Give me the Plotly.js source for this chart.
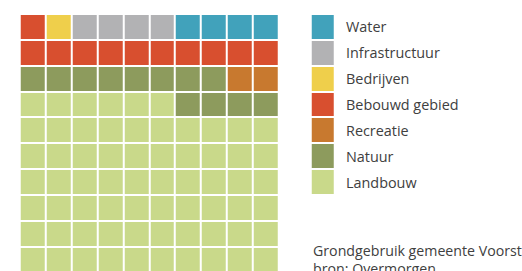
<!DOCTYPE html>
<html>
<head>
<meta charset="utf-8">
<script src="https://cdn.plot.ly/plotly-3.0.1.min.js"></script>
<style>html,body{margin:0;padding:0;background:#fff;}#chart{width:522px;height:271px;}</style>
</head>
<body>
<div id="chart"></div>
<script>
// Data
const categories = ["Water", "Infrastructuur", "Bedrijven", "Bebouwd gebied", "Recreatie", "Natuur", "Landbouw"];
const counts = [4, 4, 1, 11, 2, 12, 66];
const colors = ["#41a2bb", "#b2b2b4", "#efcf4b", "#d84f2f", "#c8792f", "#8d9b5d", "#c9d98a"];
const caption = ["Grondgebruik gemeente Voorst", "bron: Overmorgen"];

// Build waffle grid (10x10), filled from bottom-left, row by row, in reverse legend order
const N = 10;
const seq = [];
for (let k = categories.length - 1; k >= 0; k--) {
  for (let i = 0; i < counts[k]; i++) seq.push(k);
}
const z = [];
for (let r = 0; r < N; r++) {
  const row = [];
  for (let c = 0; c < N; c++) row.push(seq[r * N + c]);
  z.push(row);
}
const nC = categories.length;
const cs = [];
for (let k = 0; k < nC; k++) {
  const lo = k === 0 ? 0 : (k - 0.5) / (nC - 1);
  const hi = k === nC - 1 ? 1 : (k + 0.5) / (nC - 1);
  cs.push([lo, colors[k]]);
  cs.push([hi, colors[k]]);
}

const waffle = {
  type: 'heatmap', z: z, x: [...Array(N).keys()], y: [...Array(N).keys()],
  colorscale: cs, zmin: 0, zmax: nC - 1, showscale: false,
  xgap: 2, ygap: 2, hoverinfo: 'skip', xaxis: 'x', yaxis: 'y'
};

// Legend swatches on shared y axis, top rows
const legY = categories.map((_, k) => N - 1 - k).reverse();
const legZ = categories.map((_, k) => [k]).reverse();
const legendTrace = {
  type: 'heatmap', z: legZ, x: [0], y: legY,
  colorscale: cs, zmin: 0, zmax: nC - 1, showscale: false,
  xgap: 2, ygap: 2, hoverinfo: 'skip', xaxis: 'x2', yaxis: 'y'
};

const pitchX = 25.9, leftPx = 19.7;
const xr = [-0.5 - leftPx / pitchX, -0.5 + (522 - leftPx) / pitchX];
const pitchY = 25.85, topPx = 14;
const yr = [N - 0.5 - (271 - topPx) / pitchY, N - 0.5 + topPx / pitchY];
const lw = 24.3, lc = 322.85;
const x2r = [-lc / lw, (522 - lc) / lw];

const font = "'Open Sans', sans-serif";
const annotations = categories.map((name, k) => ({
  text: name, xref: 'x2', yref: 'y', x: 0.86, y: N - 1 - k,
  xanchor: 'left', yanchor: 'middle', showarrow: false,
  font: {family: font, size: 14.4, color: '#404040'}
}));
annotations.push({
  text: caption.join('<br>'), xref: 'x2', yref: 'paper', x: -0.5, y: 1 - 239 / 271,
  xanchor: 'left', yanchor: 'top', align: 'left', showarrow: false,
  font: {family: font, size: 14.2, color: '#404040'}
});

const ax = {showgrid: false, zeroline: false, showticklabels: false, ticks: '', showline: false, fixedrange: true};
const layout = {
  width: 522, height: 271, margin: {l: 0, r: 0, t: 0, b: 0},
  paper_bgcolor: '#fff', plot_bgcolor: 'rgba(0,0,0,0)', showlegend: false,
  xaxis: Object.assign({}, ax, {range: xr, domain: [0, 1]}),
  xaxis2: Object.assign({}, ax, {range: x2r, domain: [0, 1], overlaying: 'x'}),
  yaxis: Object.assign({}, ax, {range: yr, domain: [0, 1]}),
  annotations: annotations
};
Plotly.newPlot('chart', [waffle, legendTrace], layout, {staticPlot: true, displayModeBar: false});
</script>
</body>
</html>
